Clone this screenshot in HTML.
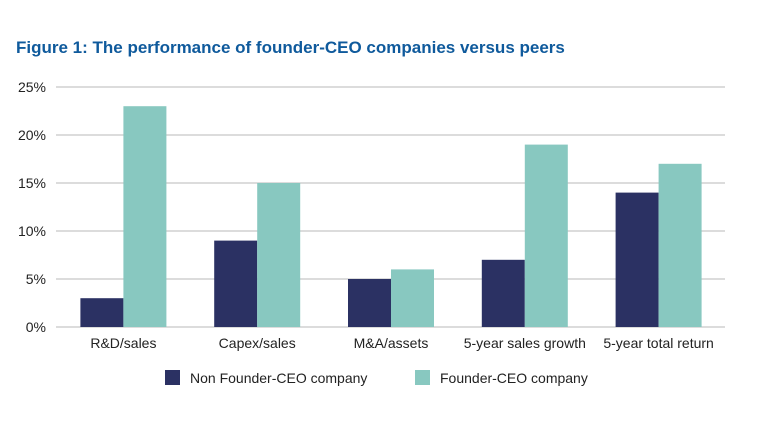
<!DOCTYPE html>
<html><head><meta charset="utf-8"><style>
body{margin:0;background:#fff;width:770px;height:420px;overflow:hidden;font-family:"Liberation Sans",sans-serif}
</style></head><body>
<svg width="770" height="420" xmlns="http://www.w3.org/2000/svg">
<text x="16" y="53" font-size="17" font-weight="bold" fill="#0f5a9c">Figure 1: The performance of founder-CEO companies versus peers</text>
<g id="grid"></g><g id="bars"></g><g id="xl"></g>
<rect x="165" y="370" width="15" height="15" fill="#2b3163"/>
<text x="190" y="383" font-size="14" fill="#222">Non Founder-CEO company</text>
<rect x="415" y="370" width="15" height="15" fill="#88c8c0"/>
<text x="440" y="383" font-size="14" fill="#222">Founder-CEO company</text>
</svg>
<script>
const categories=["R&D/sales","Capex/sales","M&A/assets","5-year sales growth","5-year total return"];
const nonFounder=[3,9,5,7,14];
const founder=[23,15,6,19,17];
const ticks=[0,5,10,15,20,25];
const NS="http://www.w3.org/2000/svg";
const x0=56,x1=725,y0=327,pxPer=9.6,bw=43;
const y=v=>y0-v*pxPer;
const gw=(x1-x0)/categories.length;
const cx=i=>x0+gw*(i+0.5)+0.5;
function el(t,a,p){const e=document.createElementNS(NS,t);for(const k in a)e.setAttribute(k,a[k]);document.getElementById(p).appendChild(e);return e;}
ticks.forEach(t=>{
 const l=el('line',{x1:x0,x2:x1,y1:y(t),y2:y(t),stroke:'#d0d0d0','stroke-width':1.5},'grid');
 
 
 const tx=el('text',{x:46,y:y(t)+5,'font-size':14,fill:'#222','text-anchor':'end'},'grid');
 tx.textContent=t+'%';
 
 
});
categories.forEach((c,i)=>{
 const a=el('rect',{x:cx(i)-bw,y:y(nonFounder[i]),width:bw,height:nonFounder[i]*pxPer,fill:'#2b3163'},'bars');
 
 
 const b=el('rect',{x:cx(i),y:y(founder[i]),width:bw,height:founder[i]*pxPer,fill:'#88c8c0'},'bars');
 
 
 const t=el('text',{x:cx(i),y:348,'font-size':14,fill:'#222','text-anchor':'middle'},'xl');
 t.textContent=c;
 
 
});
</script>
</body></html>
